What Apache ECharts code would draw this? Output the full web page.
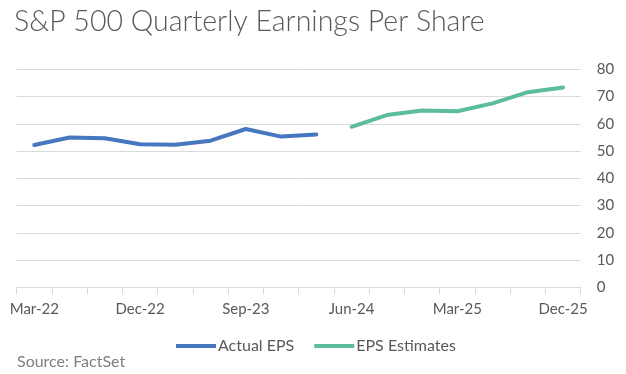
<!DOCTYPE html>
<html>
<head>
<meta charset="utf-8">
<script src="https://cdn.jsdelivr.net/npm/echarts@6/dist/echarts.min.js"></script>
<style>html,body{margin:0;padding:0;background:#fff;}#c{width:626px;height:374px;}</style>
</head>
<body>
<div id="c"></div>
<script>
const categories = ['Mar-22','Jun-22','Sep-22','Dec-22','Mar-23','Jun-23','Sep-23','Dec-23','Mar-24','Jun-24','Sep-24','Dec-24','Mar-25','Jun-25','Sep-25','Dec-25'];
const actualEPS = [52.2, 55.0, 54.7, 52.5, 52.3, 53.8, 58.1, 55.3, 56.1, null, null, null, null, null, null, null];
const epsEstimates = [null, null, null, null, null, null, null, null, null, 58.9, 63.2, 64.9, 64.6, 67.5, 71.6, 73.3];
const yTicks = {min: 0, max: 80, interval: 10};
const titleText = 'S&P 500 Quarterly Earnings Per Share';
const sourceText = 'Source: FactSet';

const FONT = 'Lato, "Open Sans", sans-serif';
const chart = echarts.init(document.getElementById('c'), null, {renderer: 'canvas'});
chart.setOption({
  animation: false,
  backgroundColor: '#ffffff',
  title: {
    text: titleText,
    left: 14, top: 7, padding: 0,
    textStyle: {fontFamily: FONT, fontWeight: 300, fontSize: 28.5, color: '#595959'}
  },
  legend: {
    left: 176, top: 338, padding: 0,
    icon: 'rect', itemWidth: 40, itemHeight: 4, itemGap: 20,
    textStyle: {fontFamily: FONT, fontSize: 16, color: '#595959', padding: [0, 0, 0, -3]},
    data: ['Actual EPS', 'EPS Estimates']
  },
  grid: {left: 16.7, right: 45.3, top: 69.3, bottom: 86.7, containLabel: false},
  xAxis: {
    type: 'category', data: categories, boundaryGap: true,
    axisLine: {lineStyle: {color: '#d9d9d9', width: 1}},
    axisTick: {show: true, interval: 0, length: 7, lineStyle: {color: '#d9d9d9'}},
    axisLabel: {interval: 2, margin: 14, fontFamily: FONT, fontSize: 15, color: '#595959'},
    splitLine: {show: false}
  },
  yAxis: {
    type: 'value', position: 'right', min: yTicks.min, max: yTicks.max, interval: yTicks.interval,
    axisLine: {show: false}, axisTick: {show: false},
    axisLabel: {margin: 16, fontFamily: FONT, fontSize: 15, color: '#595959'},
    splitLine: {lineStyle: {color: '#d9d9d9', width: 1}}
  },
  series: [
    {name: 'Actual EPS', type: 'line', data: actualEPS, showSymbol: false, symbol: 'none',
     lineStyle: {width: 4, color: '#4677BF', cap: 'round', join: 'round'}, itemStyle: {color: '#4677BF'}},
    {name: 'EPS Estimates', type: 'line', data: epsEstimates, showSymbol: false, symbol: 'none',
     lineStyle: {width: 4, color: '#5BBD9B', cap: 'round', join: 'round'}, itemStyle: {color: '#5BBD9B'}}
  ],
  graphic: [
    {type: 'text', left: 17, top: 354, style: {text: sourceText, fontFamily: FONT, fontSize: 16, fill: '#7f7f7f'}}
  ]
});
</script>
</body>
</html>
